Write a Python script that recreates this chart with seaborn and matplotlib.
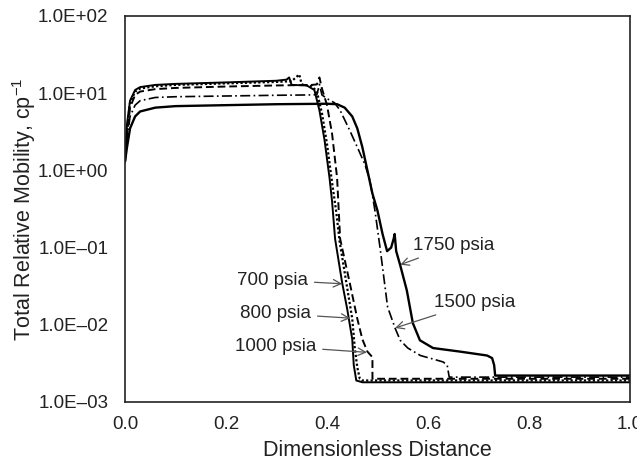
import numpy as np
import pandas as pd
import matplotlib
matplotlib.use("Agg")
import matplotlib.pyplot as plt
import seaborn as sns
from matplotlib.ticker import FixedLocator, FuncFormatter

# ---------------- data ----------------
x700 = [0.0, 0.004, 0.01, 0.02, 0.03, 0.06, 0.1, 0.2, 0.3, 0.32, 0.325, 0.33, 0.36, 0.375,
        0.385, 0.395, 0.405, 0.41, 0.416, 0.43, 0.44, 0.45, 0.453, 0.458, 0.47, 0.6, 0.8, 1.0]
y700 = [1.3, 4.0, 8.0, 11.0, 12.0, 12.8, 13.2, 13.8, 14.5, 15.0, 16.0, 12.8, 12.6, 11.0,
        6.0, 2.5, 0.8, 0.4, 0.13, 0.035, 0.016, 0.0065, 0.003, 0.0019, 0.0018, 0.0018, 0.0018, 0.0018]

x800 = [0.0, 0.004, 0.01, 0.02, 0.03, 0.06, 0.1, 0.2, 0.3, 0.33, 0.345, 0.35, 0.37, 0.38,
        0.39, 0.40, 0.41, 0.418, 0.425, 0.44, 0.45, 0.455, 0.46, 0.465, 0.47, 0.6, 0.8, 1.0]
y800 = [1.3, 3.5, 7.5, 10.5, 11.5, 12.3, 12.8, 13.4, 14.0, 14.3, 17.5, 13.0, 12.3, 10.5,
        5.5, 2.2, 0.7, 0.3, 0.12, 0.03, 0.012, 0.005, 0.0028, 0.002, 0.0019, 0.0019, 0.0019, 0.0019]

x1000 = [0.0, 0.004, 0.01, 0.02, 0.03, 0.06, 0.1, 0.2, 0.3, 0.37, 0.38, 0.385, 0.39, 0.40,
         0.41, 0.42, 0.426, 0.445, 0.46, 0.47, 0.48, 0.49, 0.49, 0.5, 0.6, 0.8, 1.0]
y1000 = [1.3, 3.0, 6.5, 9.5, 10.5, 11.3, 11.7, 12.2, 12.6, 12.8, 13.0, 16.0, 11.5, 7.0,
         3.0, 0.8, 0.13, 0.035, 0.012, 0.0065, 0.0045, 0.0038, 0.002, 0.002, 0.002, 0.002, 0.002]

x1500 = [0.0, 0.004, 0.01, 0.02, 0.03, 0.06, 0.1, 0.2, 0.3, 0.37, 0.38, 0.385, 0.39, 0.40,
         0.415, 0.426, 0.445, 0.46, 0.475, 0.485, 0.495, 0.505, 0.52, 0.535, 0.545, 0.56,
         0.585, 0.61, 0.63, 0.638, 0.642, 0.65, 0.8, 1.0]
y1500 = [1.3, 2.5, 5.0, 7.0, 8.0, 8.8, 9.0, 9.2, 9.4, 9.5, 9.6, 13.0, 9.5, 8.5,
         7.5, 6.0, 3.3, 2.0, 1.2, 0.74, 0.3, 0.1, 0.017, 0.009, 0.0063, 0.005,
         0.004, 0.0036, 0.0033, 0.003, 0.0021, 0.0021, 0.0021, 0.0021]

x1750 = [0.0, 0.004, 0.01, 0.02, 0.03, 0.06, 0.1, 0.2, 0.3, 0.4, 0.42, 0.435, 0.45, 0.46,
         0.47, 0.48, 0.49, 0.5, 0.51, 0.519, 0.527, 0.532, 0.534, 0.537, 0.545, 0.558,
         0.57, 0.584, 0.61, 0.663, 0.717, 0.727, 0.731, 0.733, 0.74, 1.0]
y1750 = [1.3, 2.0, 3.5, 5.0, 5.8, 6.5, 6.8, 7.0, 7.2, 7.3, 7.2, 6.5, 5.0, 3.5,
         2.0, 1.0, 0.5, 0.3, 0.15, 0.09, 0.1, 0.13, 0.15, 0.09, 0.059, 0.028,
         0.0105, 0.0063, 0.005, 0.0045, 0.004, 0.0037, 0.003, 0.0022, 0.0022, 0.0022]

series_names = ["700 psia", "800 psia", "1000 psia", "1500 psia", "1750 psia"]
xticks = [0.0, 0.2, 0.4, 0.6, 0.8, 1.0]
ytick_exps = [-3, -2, -1, 0, 1, 2]

# ---------------- figure ----------------
sns.set_theme(style="white")
plt.rcParams["font.family"] = ["Liberation Sans", "DejaVu Sans"]
plt.rcParams["mathtext.default"] = "regular"

fig = plt.figure(figsize=(6.37, 4.66), dpi=100)
ax = fig.add_axes([125 / 637, 1 - 402 / 466, 505 / 637, 386 / 466])

styles = {
    "700 psia": dict(linestyle="-", linewidth=1.4),
    "800 psia": dict(linestyle=(0, (1, 1)), linewidth=1.6),
    "1000 psia": dict(linestyle=(0, (4, 2)), linewidth=1.4),
    "1500 psia": dict(linestyle=(0, (6, 2, 1, 2)), linewidth=1.2),
    "1750 psia": dict(linestyle="-", linewidth=1.7),
}
data = {
    "700 psia": (x700, y700),
    "800 psia": (x800, y800),
    "1000 psia": (x1000, y1000),
    "1500 psia": (x1500, y1500),
    "1750 psia": (x1750, y1750),
}
for name in series_names:
    xs, ys = data[name]
    df = pd.DataFrame({"x": xs, "y": ys})
    sns.lineplot(data=df, x="x", y="y", ax=ax, color="black", sort=False,
                 estimator=None, **styles[name])

ax.set_yscale("log")
ax.set_xlim(0, 1)
ax.set_ylim(1e-3, 1e2)

ax.xaxis.set_major_locator(FixedLocator(xticks))
ax.xaxis.set_major_formatter(FuncFormatter(lambda v, p: f"{v:.1f}"))
ax.yaxis.set_major_locator(FixedLocator([10.0 ** e for e in ytick_exps]))
ax.yaxis.set_minor_locator(FixedLocator([]))


def yfmt(v, p):
    e = int(round(np.log10(v)))
    sign = "+" if e >= 0 else "\u2013"
    return f"1.0E{sign}{abs(e):02d}"


ax.yaxis.set_major_formatter(FuncFormatter(yfmt))
ax.tick_params(axis="both", which="major", direction="in", length=5, width=1,
               labelsize=13.5, colors="#222222")
ax.tick_params(axis="x", pad=10)
ax.tick_params(axis="y", pad=12)

for s in ax.spines.values():
    s.set_color("#222222")
    s.set_linewidth(1.2)

ax.set_xlabel("Dimensionless Distance", fontsize=15.5, color="#222222", labelpad=5)
ax.set_ylabel("Total Relative Mobility, cp$^{\u22121}$", fontsize=15.5, color="#222222",
              labelpad=0)

arrow = dict(arrowstyle="->", color="#555555", lw=0.9, shrinkA=2, shrinkB=0)
ann_kw = dict(fontsize=13.5, color="#222222", ha="center", va="center")
ax.annotate("700 psia", xy=(0.43, 0.034), xytext=(0.293, 0.038), arrowprops=arrow, **ann_kw)
ax.annotate("800 psia", xy=(0.446, 0.0122), xytext=(0.299, 0.014), arrowprops=arrow, **ann_kw)
ax.annotate("1000 psia", xy=(0.479, 0.0044), xytext=(0.299, 0.0053), arrowprops=arrow, **ann_kw)
ax.annotate("1750 psia", xy=(0.545, 0.06), xytext=(0.65, 0.107), arrowprops=arrow, **ann_kw)
ax.annotate("1500 psia", xy=(0.535, 0.0091), xytext=(0.693, 0.0196), arrowprops=arrow, **ann_kw)

fig.savefig("out.png", dpi=100)
